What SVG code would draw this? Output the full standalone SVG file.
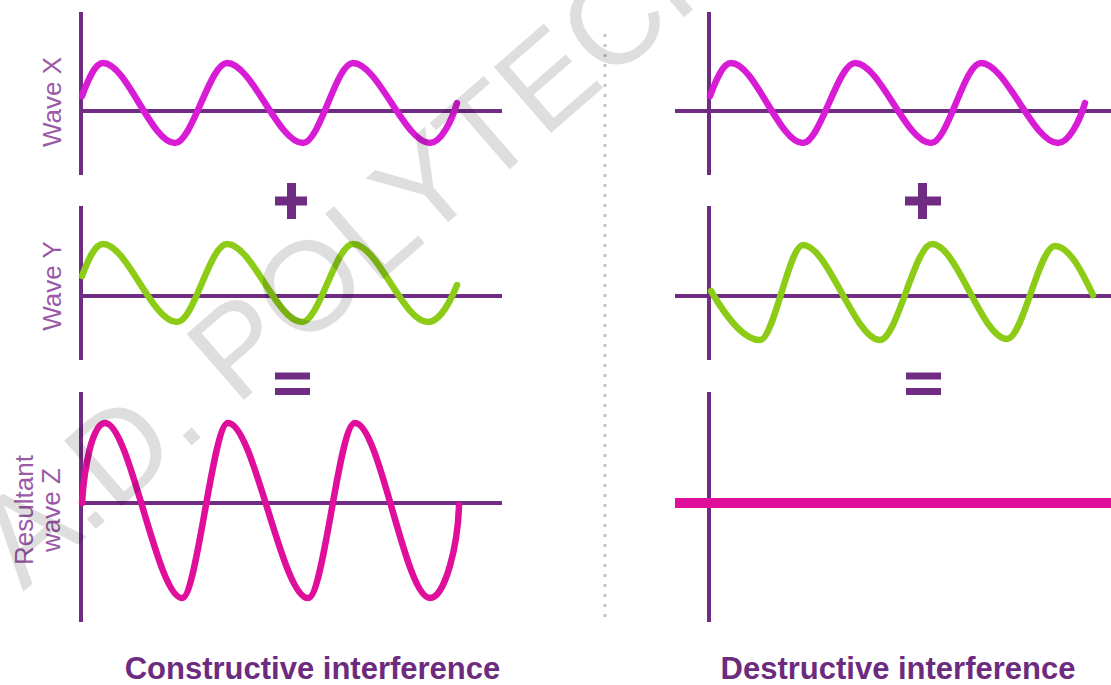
<svg xmlns="http://www.w3.org/2000/svg" width="1111" height="685" viewBox="0 0 1111 685">
  <style>
    .axis { stroke: #702c82; stroke-width: 4; fill: none; }
    .wx { stroke: #d81bd4; stroke-width: 6.5; fill: none; stroke-linecap: round; stroke-linejoin: round; }
    .wy { stroke: #8ccc16; stroke-width: 6.5; fill: none; stroke-linecap: round; stroke-linejoin: round; }
    .wz { stroke: #df0f9c; stroke-width: 6.5; fill: none; stroke-linecap: round; stroke-linejoin: round; }
    .op { stroke: #702c82; stroke-width: 9; fill: none; }
    .lbl { font-family: "Liberation Sans", Arial, sans-serif; font-size: 26px; fill: #9a5aa7; }
    .title { font-family: "Liberation Sans", Arial, sans-serif; font-size: 31px; font-weight: bold; fill: #6c2b7f; }
    .sep { stroke: #c4c4c4; stroke-width: 3; stroke-dasharray: 3 7; fill: none; }
    .wm { font-family: "Liberation Sans", Arial, sans-serif; font-size: 127px; fill: #000; fill-opacity: 0.13; }
  </style>
  <rect width="1111" height="685" fill="#ffffff"/>

  <g id="separator">
    <line class="sep" x1="605" y1="34" x2="605" y2="620"/>
  </g>

  <g id="constructive">
    <g id="c-wave-x">
      <line class="axis" x1="81" y1="12" x2="81" y2="175"/>
      <line class="axis" x1="81" y1="111" x2="502" y2="111"/>
      <path class="wx" d="M82,96 C88,80 95,63 103,63 C127,63 151,143 175,143 C192,143 210,63 227,63 C252,63 278,143 303,143 C320,143 336,63 353,63 C378,63 405,143 430,143 C441,143 452,120 457,103"/>
      <text class="lbl" transform="translate(61,102) rotate(-90)" text-anchor="middle">Wave X</text>
    </g>
    <g id="c-plus">
      <line class="op" x1="275" y1="201" x2="307" y2="201"/>
      <line class="op" x1="291.5" y1="183" x2="291.5" y2="219"/>
    </g>
    <g id="c-wave-y">
      <line class="axis" x1="81" y1="206" x2="81" y2="360"/>
      <line class="axis" x1="81" y1="296" x2="502" y2="296"/>
      <path class="wy" d="M82,276 C88,260 95,244 103,244 C127,244 152,322 177,322 C194,322 210,244 227,244 C252,244 277,322 302,322 C319,322 336,244 353,244 C378,244 403,322 428,322 C440,322 451,300 457,285"/>
      <text class="lbl" transform="translate(61,286) rotate(-90)" text-anchor="middle">Wave Y</text>
    </g>
    <g id="c-equals">
      <line class="op" x1="275" y1="376" x2="310" y2="376" style="stroke-width:7"/>
      <line class="op" x1="275" y1="391.5" x2="310" y2="391.5" style="stroke-width:7"/>
    </g>
    <g id="c-wave-z">
      <line class="axis" x1="81" y1="392" x2="81" y2="622"/>
      <line class="axis" x1="81" y1="503" x2="502" y2="503"/>
      <path class="wz" d="M82,503 C84,470 92,423 105,423 C130,423 157,598 182,598 C197,598 213,423 228,423 C254,423 282,598 308,598 C324,598 339,423 355,423 C380,423 405,598 430,598 C445,598 458,545 459,505"/>
      <text class="lbl" transform="translate(33,510) rotate(-90)" text-anchor="middle">Resultant</text>
      <text class="lbl" transform="translate(60,510) rotate(-90)" text-anchor="middle">wave Z</text>
    </g>
    <text class="title" x="312.5" y="679" text-anchor="middle">Constructive interference</text>
  </g>

  <g id="destructive">
    <g id="d-wave-x">
      <line class="axis" x1="709" y1="12" x2="709" y2="175"/>
      <line class="axis" x1="675" y1="111" x2="1111" y2="111"/>
      <path class="wx" d="M710,96 C716,80 723,63 731,63 C755,63 779,143 803,143 C820,143 838,63 855,63 C880,63 906,143 931,143 C948,143 964,63 981,63 C1006,63 1033,143 1058,143 C1069,143 1080,120 1085,103"/>
    </g>
    <g id="d-plus">
      <line class="op" x1="905" y1="201" x2="941" y2="201"/>
      <line class="op" x1="922.5" y1="183" x2="922.5" y2="219"/>
    </g>
    <g id="d-wave-y">
      <line class="axis" x1="709" y1="206" x2="709" y2="360"/>
      <line class="axis" x1="675" y1="296" x2="1111" y2="296"/>
      <path class="wy" d="M711,291 C722,310 742,340 760,340 C774,340 789,245 803,245 C828,245 855,340 880,340 C897,340 915,244 932,244 C957,244 982,339 1007,339 C1023,339 1039,246 1055,246 C1070,246 1084,276 1093,295"/>
    </g>
    <g id="d-equals">
      <line class="op" x1="906" y1="376" x2="941" y2="376" style="stroke-width:7"/>
      <line class="op" x1="906" y1="391.5" x2="941" y2="391.5" style="stroke-width:7"/>
    </g>
    <g id="d-wave-z">
      <line class="axis" x1="709" y1="392" x2="709" y2="622"/>
      <line x1="675" y1="503" x2="1111" y2="503" stroke="#df0f9c" stroke-width="10"/>
    </g>
    <text class="title" x="898" y="679" text-anchor="middle">Destructive interference</text>
  </g>

  <g id="watermark">
    <text class="wm" transform="translate(23,592) rotate(-41)">A.D. POLYTECH</text>
  </g>
</svg>
